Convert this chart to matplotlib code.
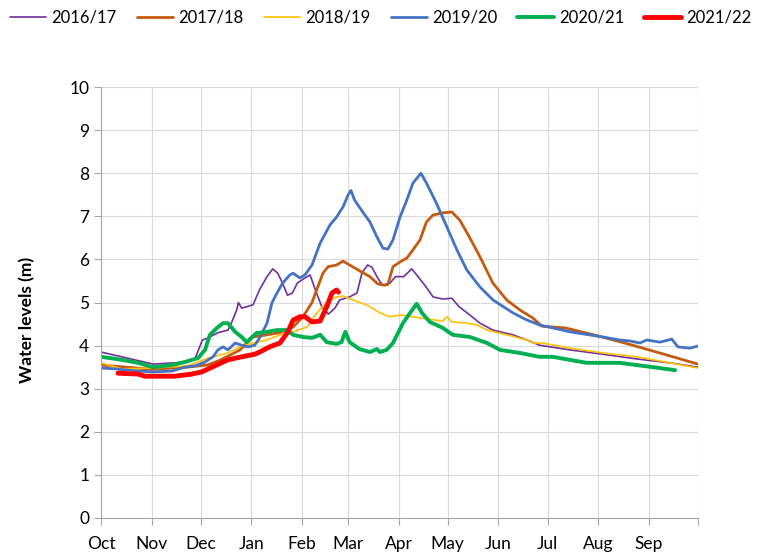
import matplotlib
matplotlib.use("Agg")
import matplotlib.pyplot as plt

plt.rcParams['font.family'] = ['Lato', 'DejaVu Sans']

months = ['Oct', 'Nov', 'Dec', 'Jan', 'Feb', 'Mar', 'Apr', 'May', 'Jun', 'Jul', 'Aug', 'Sep']
month_start_days = [0, 31, 61, 92, 123, 151, 182, 212, 243, 273, 304, 335]

# day = days since 1 Oct, value = water level (m)
days_1617 = [0, 32, 53, 57.5, 62, 65, 71.5, 77.6, 80, 83, 84, 86, 89, 93, 97, 101.5, 105, 108, 111, 114,
             117, 120, 124.7, 127.8, 131, 135, 139, 143, 146, 152, 156.5, 159.5, 163, 165.6, 168.7, 172,
             176.7, 180, 185, 190, 193, 198, 203, 209, 214.5, 219, 225.5, 231.7, 239.6, 251.8, 260.4,
             268, 286.7, 306.8, 327.6, 347.8, 365]
vals_1617 = [3.85, 3.57, 3.62, 3.7, 4.13, 4.17, 4.3, 4.36, 4.55, 4.83, 5.0, 4.87, 4.9, 4.95, 5.3, 5.6, 5.78, 5.68, 5.45, 5.17,
             5.22, 5.45, 5.57, 5.64, 5.3, 4.9, 4.73, 4.87, 5.06, 5.13, 5.22, 5.68, 5.87, 5.82, 5.6, 5.4,
             5.45, 5.6, 5.6, 5.78, 5.64, 5.4, 5.13, 5.08, 5.1, 4.9, 4.71, 4.52, 4.36, 4.25, 4.13,
             4.01, 3.9, 3.8, 3.69, 3.6, 3.5]

days_1718 = [0, 31, 53, 65, 72, 80, 85, 93, 101.5, 109.4, 117.4, 123.5, 129, 132.6, 135.7, 138.8, 144, 148,
             152, 158.3, 164.4, 169.3, 173.6, 175.4, 178.5, 182.8, 187, 190.7, 195, 199, 203, 209, 214.5,
             219.4, 225.5, 231.7, 239.6, 248, 256, 264, 269.6, 284, 304.4, 325, 346, 365]
vals_1718 = [3.55, 3.45, 3.5, 3.55, 3.65, 3.8, 3.9, 4.2, 4.25, 4.3, 4.43, 4.67, 5.0, 5.37, 5.68, 5.83, 5.87, 5.96,
             5.87, 5.73, 5.6, 5.43, 5.4, 5.42, 5.83, 5.94, 6.03, 6.22, 6.45, 6.87, 7.03, 7.08, 7.1,
             6.91, 6.5, 6.06, 5.45, 5.06, 4.83, 4.64, 4.45, 4.41, 4.22, 4.01, 3.78, 3.57]

days_1819 = [0, 12.8, 31.8, 53, 65.4, 77.6, 85, 93, 101.5, 109.4, 117.4, 126, 132, 138, 144, 148, 154, 162.6,
             170.5, 176.7, 182.8, 187, 195, 203, 209, 211.5, 214.5, 223.7, 229.8, 236, 248, 260.4, 264,
             270, 286.7, 306.8, 327.6, 347.8, 365]
vals_1819 = [3.6, 3.46, 3.48, 3.53, 3.71, 3.83, 3.97, 4.06, 4.13, 4.25, 4.32, 4.43, 4.76, 5.01, 5.13, 5.15, 5.06, 4.94,
             4.76, 4.67, 4.71, 4.69, 4.64, 4.6, 4.57, 4.67, 4.55, 4.52, 4.48, 4.36, 4.25, 4.13, 4.06,
             4.06, 3.94, 3.83, 3.74, 3.6, 3.48]

days_1920 = [0, 8.6, 22.6, 31.8, 43.4, 51.3, 57.5, 63.6, 68.5, 71.5, 74.6, 77.6, 82, 86, 90, 94, 97, 101.5,
             104.5, 107.6, 111, 115.5, 117.4, 121.6, 124.7, 129, 134, 140, 144, 148, 151, 152.8, 155, 160,
             164.4, 168.7, 172.4, 175.4, 178.5, 182.8, 187, 190.7, 195.6, 199, 205, 211.5, 217.6, 223.7,
             231.7, 239.6, 251.8, 260, 268, 286.7, 306.8, 317, 323, 329.5, 333.7, 341.7, 349, 352.7, 360, 365]
vals_1920 = [3.48, 3.46, 3.41, 3.39, 3.41, 3.5, 3.53, 3.62, 3.74, 3.9, 3.97, 3.9, 4.06, 4.01, 3.97, 4.01, 4.18, 4.52,
             4.99, 5.22, 5.45, 5.64, 5.68, 5.57, 5.64, 5.87, 6.38, 6.8, 6.98, 7.22, 7.49, 7.6, 7.38, 7.1,
             6.87, 6.52, 6.26, 6.24, 6.45, 6.98, 7.38, 7.77, 8.0, 7.77, 7.31, 6.75, 6.22, 5.75,
             5.36, 5.06, 4.76, 4.6, 4.48, 4.32, 4.2, 4.13, 4.11, 4.06, 4.13, 4.08, 4.15, 3.97, 3.94, 3.99]

days_2021 = [0, 12.8, 22.6, 31.8, 43.4, 51.3, 59.3, 63.6, 66.6, 70.9, 74.6, 77.6, 82, 86, 89, 95, 101.5, 107.6,
             113.7, 117.4, 123.5, 129, 134, 138, 144, 147, 149.4, 152, 158, 164.4, 168.7, 170.5, 174.6, 178.5,
             184.6, 189, 193, 196.2, 201, 209, 215, 225.5, 236, 244, 256, 268, 276, 297, 317, 337.5, 351]
vals_2021 = [3.74, 3.67, 3.6, 3.5, 3.55, 3.62, 3.71, 3.9, 4.25, 4.41, 4.52, 4.52, 4.32, 4.2, 4.08, 4.29, 4.32, 4.36,
             4.36, 4.25, 4.2, 4.18, 4.25, 4.08, 4.04, 4.08, 4.32, 4.08, 3.92, 3.85, 3.92, 3.85, 3.9, 4.06,
             4.52, 4.76, 4.97, 4.76, 4.55, 4.41, 4.25, 4.2, 4.06, 3.9, 3.83, 3.74, 3.74, 3.6, 3.6, 3.5, 3.43]

days_2122 = [10.4, 22.6, 26.9, 45.2, 55.6, 61.7, 67.8, 77.6, 86, 94, 97, 103, 109.4, 114.3, 117.4, 121.6,
             124.7, 129, 134, 138, 141.2, 144, 145.2]
vals_2122 = [3.36, 3.34, 3.29, 3.29, 3.34, 3.39, 3.5, 3.67, 3.74, 3.8, 3.85, 3.97, 4.06, 4.32, 4.59, 4.67,
             4.67, 4.55, 4.57, 4.9, 5.22, 5.29, 5.24]

series = [
    ('2016/17', days_1617, vals_1617, '#7030A0', 1.2),
    ('2017/18', days_1718, vals_1718, '#C55A11', 2.0),
    ('2018/19', days_1819, vals_1819, '#FFC000', 1.2),
    ('2019/20', days_1920, vals_1920, '#4472C4', 2.0),
    ('2020/21', days_2021, vals_2021, '#00B050', 2.8),
    ('2021/22', days_2122, vals_2122, '#FF0000', 3.5),
]

fig = plt.figure(figsize=(7.61, 5.58), dpi=100)
ax = fig.add_axes([101/761, 1 - 518/558, (698 - 101)/761, (518 - 87)/558])

for label, d, v, c, lw in series:
    ax.plot(d, v, color=c, lw=lw, label=label, solid_joinstyle='round', solid_capstyle='round')

ax.set_xlim(0, 365)
ax.set_ylim(0, 10)
ax.set_yticks(range(0, 11))
ax.set_xticks(month_start_days + [365])
ax.set_xticklabels(months + [''])
ax.grid(True, color='#D9D9D9', lw=0.8)
ax.set_axisbelow(True)
for s in ['top', 'right']:
    ax.spines[s].set_visible(False)
for s in ['left', 'bottom']:
    ax.spines[s].set_color('#A6A6A6')
ax.tick_params(axis='both', colors='#A6A6A6', length=5, labelcolor='black', labelsize=12.5)
ax.tick_params(axis='x', pad=8)
ax.set_ylabel('Water levels (m)', fontsize=12.5, fontweight='bold')
ax.yaxis.set_label_coords(-0.11, 0.46)

fig.legend(loc='upper center', bbox_to_anchor=(0.5, 1.01), ncol=6, frameon=False,
           fontsize=12, handlelength=2.2, handletextpad=0.3, columnspacing=1.2)

fig.savefig('out.png', dpi=100)
